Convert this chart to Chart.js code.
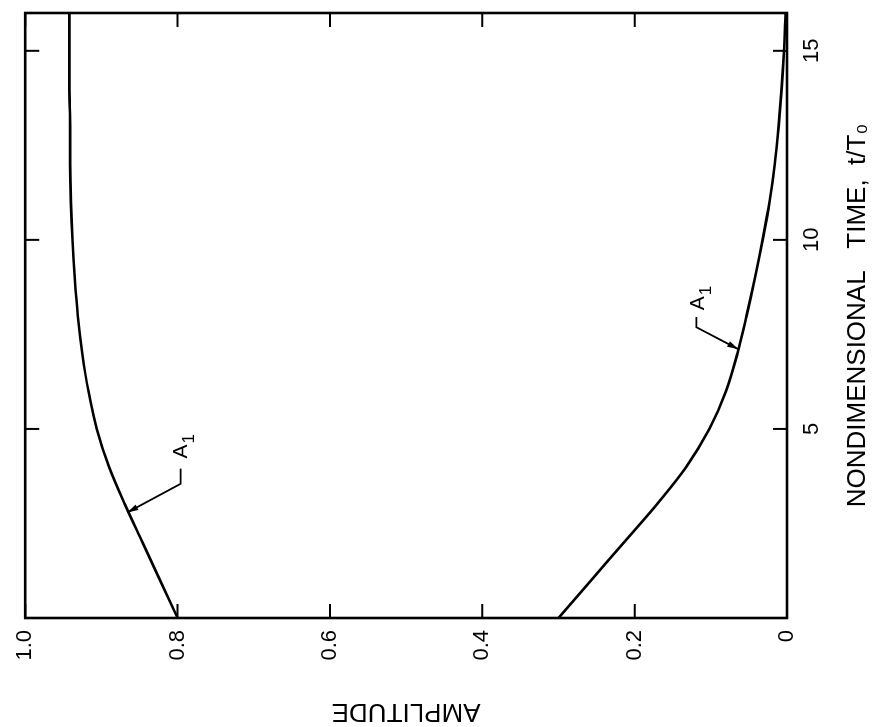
<!DOCTYPE html>
<html>
<head>
<meta charset="utf-8">
<title>Amplitude vs nondimensional time</title>
<script src="https://cdn.jsdelivr.net/npm/chart.js@4.4.1/dist/chart.umd.min.js"></script>
<style>
  html, body { margin: 0; padding: 0; background: #fff; overflow: hidden; }
  /* the original figure is printed sideways, so the whole sheet is turned */
  #sheet {
    position: absolute; left: 0; top: 0;
    width: 727px; height: 881px;
    transform-origin: 0 0;
    transform: translateY(727px) rotate(-90deg);
  }
</style>
</head>
<body>
<div id="sheet"><canvas id="chart" width="727" height="881"></canvas></div>
<script>
// --- data ---
const timeSteps = [0, 1, 2, 3, 4, 5, 6, 7, 8, 9, 10, 11, 12, 13, 14, 15, 16];
const upperA1 = [0.800, 0.823, 0.846, 0.869, 0.890, 0.906, 0.917, 0.925, 0.931, 0.935, 0.938, 0.940, 0.941, 0.941, 0.942, 0.942, 0.942];
const lowerA1 = [0.300, 0.257, 0.214, 0.171, 0.132, 0.102, 0.080, 0.065, 0.053, 0.042, 0.032, 0.023, 0.016, 0.011, 0.007, 0.004, 0.002];

const timeTicks = [0, 5, 10, 15];
const ampTicks = [0, 0.2, 0.4, 0.6, 0.8, 1.0];
const ampLabels = ['0', '0.2', '0.4', '0.6', '0.8', '1.0'];

// callouts "A1": label anchor, leader elbow points, arrow tip (time, amplitude)
const upperLabelAt = [4.22, 0.795];
const upperLeader = [[3.95, 0.796], [3.55, 0.796], [2.79, 0.866]];
const lowerLabelAt = [8.14, 0.117];
const lowerLeader = [[7.96, 0.119], [7.69, 0.119], [7.11, 0.064]];

const FONT = "'Liberation Sans', Arial, sans-serif";
Chart.defaults.font.family = FONT;
Chart.defaults.color = '#000';

function series(vals) {
    return timeSteps.map((t, i) => ({ x: t, y: vals[i] }));
}

// frame, inward ticks on all four sides, and the A1 callouts
const framePlugin = {
    id: 'frame',
    afterDatasetsDraw(chart) {
        const { ctx, chartArea: a } = chart;
        const xs = chart.scales.x, ys = chart.scales.y;
        const tick = 14;
        ctx.save();
        ctx.strokeStyle = '#000';
        ctx.lineCap = 'butt';

        ctx.lineWidth = 2;
        ctx.beginPath();
        timeTicks.forEach(v => {
            const px = xs.getPixelForValue(v);
            ctx.moveTo(px, a.bottom); ctx.lineTo(px, a.bottom - tick);
            ctx.moveTo(px, a.top); ctx.lineTo(px, a.top + tick);
        });
        ampTicks.forEach(v => {
            const py = ys.getPixelForValue(v);
            ctx.moveTo(a.left, py); ctx.lineTo(a.left + tick, py);
            ctx.moveTo(a.right, py); ctx.lineTo(a.right - tick, py);
        });
        ctx.stroke();

        ctx.lineWidth = 2.6;
        ctx.strokeRect(a.left, a.top, a.right - a.left, a.bottom - a.top);

        const callout = (labelAt, leader) => {
            const pts = leader.map(p => [xs.getPixelForValue(p[0]), ys.getPixelForValue(p[1])]);
            ctx.lineWidth = 1.8;
            ctx.beginPath();
            ctx.moveTo(pts[0][0], pts[0][1]);
            pts.slice(1).forEach(p => ctx.lineTo(p[0], p[1]));
            ctx.stroke();

            // arrow head at the curve
            const [x1, y1] = pts[pts.length - 2], [x2, y2] = pts[pts.length - 1];
            const ang = Math.atan2(y2 - y1, x2 - x1);
            ctx.beginPath();
            ctx.moveTo(x2, y2);
            ctx.lineTo(x2 - 11 * Math.cos(ang) + 3 * Math.sin(ang), y2 - 11 * Math.sin(ang) - 3 * Math.cos(ang));
            ctx.lineTo(x2 - 11 * Math.cos(ang) - 3 * Math.sin(ang), y2 - 11 * Math.sin(ang) + 3 * Math.cos(ang));
            ctx.closePath();
            ctx.fillStyle = '#000';
            ctx.fill();

            const lx = xs.getPixelForValue(labelAt[0]), ly = ys.getPixelForValue(labelAt[1]);
            ctx.textAlign = 'left';
            ctx.textBaseline = 'middle';
            ctx.font = '21px ' + FONT;
            ctx.fillText('A', lx, ly);
            const w = ctx.measureText('A').width;
            ctx.font = '17px ' + FONT;
            ctx.fillText('1', lx + w + 1, ly + 8);
        };
        callout(upperLabelAt, upperLeader);
        callout(lowerLabelAt, lowerLeader);

        ctx.restore();
    }
};

new Chart(document.getElementById('chart'), {
    type: 'line',
    data: {
        datasets: [
            { label: 'A1 (upper)', data: series(upperA1) },
            { label: 'A1 (lower)', data: series(lowerA1) }
        ]
    },
    options: {
        responsive: false,
        animation: false,
        layout: { padding: { top: 21, right: 13, left: 0, bottom: 0 } },
        elements: {
            line: { borderColor: '#000', borderWidth: 2.6, cubicInterpolationMode: 'monotone' },
            point: { radius: 0 }
        },
        plugins: { legend: { display: false }, tooltip: { enabled: false } },
        scales: {
            x: {
                type: 'linear',
                position: 'bottom',
                min: 0,
                max: 16,
                afterBuildTicks: s => { s.ticks = timeTicks.map(v => ({ value: v })); },
                afterFit: s => { s.height = 94; },
                grid: { display: false, drawTicks: false },
                border: { display: false },
                ticks: {
                    padding: 12,
                    maxRotation: 0,
                    font: { size: 22 },
                    callback: v => (v === 0 ? '' : String(v))
                },
                title: {
                    display: true,
                    text: 'NONDIMENSIONAL   TIME,  t/T\u2080',
                    font: { size: 26 },
                    padding: { top: 0, bottom: 8 }
                }
            },
            y: {
                type: 'linear',
                position: 'left',
                min: 0,
                max: 1,
                afterBuildTicks: s => { s.ticks = ampTicks.map(v => ({ value: v })); },
                afterFit: s => { s.width = 109; },
                grid: { display: false, drawTicks: false },
                border: { display: false },
                ticks: {
                    padding: 12,
                    font: { size: 22 },
                    callback: (v, i) => ampLabels[i]
                },
                title: {
                    display: true,
                    text: 'AMPLITUDE',
                    font: { size: 26 },
                    padding: 0
                }
            }
        }
    },
    plugins: [framePlugin]
});
</script>
</body>
</html>
